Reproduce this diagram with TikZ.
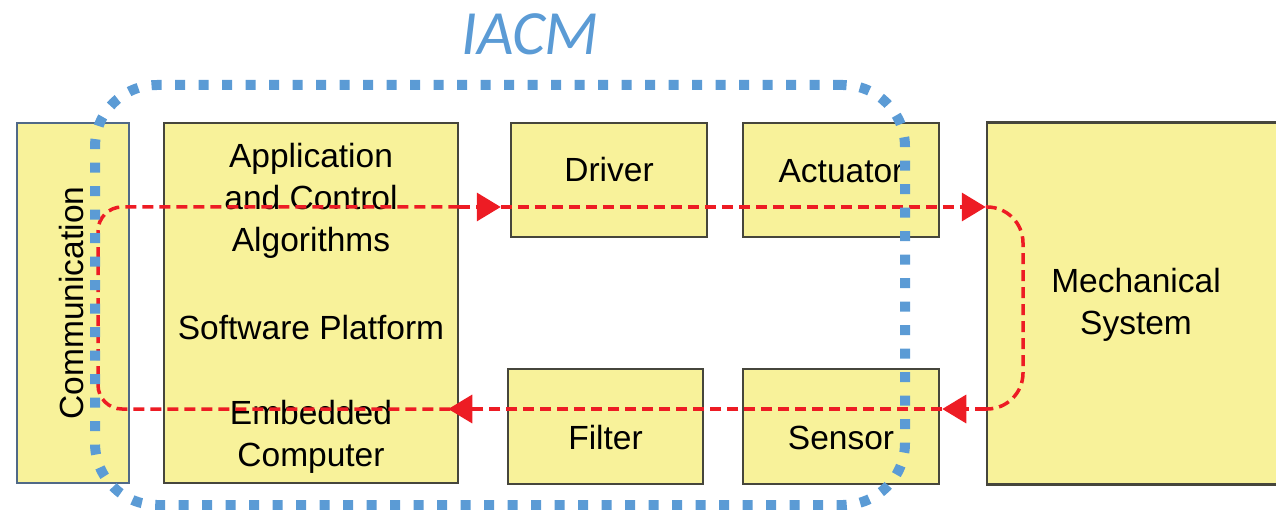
\documentclass[tikz,border=0pt]{standalone}
\usepackage{fontspec}
\setmainfont{Liberation Sans}
\newfontfamily\iacmfont{Carlito}
\usetikzlibrary{arrows.meta}
\definecolor{boxfill}{RGB}{248,242,154}
\definecolor{boxline}{RGB}{70,70,60}
\definecolor{commline}{RGB}{80,105,135}
\definecolor{flowred}{RGB}{237,28,36}
\definecolor{iacmblue}{RGB}{91,155,213}
\newcommand{\shifttext}[2]{\raisebox{#1}[\height][\depth]{#2}}
\tikzset{
  blk/.style={draw=boxline, line width=2.5pt, fill=boxfill, inner sep=0pt,
    font=\fontsize{33.5}{42}\selectfont, align=center},
  flow/.style={draw=flowred, line width=3.5pt, dash pattern=on 11pt off 6pt},
  flowarrow/.style={flow, -{Triangle[length=24pt,width=28pt]}},
  frame/.style={draw=iacmblue, line width=10pt, dash pattern=on 10pt off 13.5pt,
    rounded corners=62pt}
}
\begin{document}
\begin{tikzpicture}[x=1pt,y=-1pt]
\useasboundingbox (0,0) rectangle (1276,510);
% boxes
\node[blk, draw=commline, minimum width=360pt, minimum height=112pt, rotate=90] (comm) at (73,303) {\shifttext{1pt}{Communication}};
\node[blk, minimum width=294pt, minimum height=360pt] (app) at (311,303)
  {\shifttext{-6pt}{\begin{tabular}{@{}c@{}}Application\\and Control\\Algorithms\\[46pt]Software Platform\\[43pt]Embedded\\Computer\end{tabular}}};
\node[blk, minimum width=196pt, minimum height=114pt] (driver) at (609,180) {\shifttext{10pt}{Driver}};
\node[blk, minimum width=196pt, minimum height=114pt] (act) at (841,180) {\shifttext{9pt}{Actuator}};
\node[blk, minimum width=195pt, minimum height=115pt] (filter) at (605.5,426.5) {\shifttext{-11pt}{Filter}};
\node[blk, minimum width=196pt, minimum height=115pt] (sensor) at (841,426.5) {\shifttext{-11pt}{Sensor}};
\node[blk, minimum width=298pt, minimum height=362pt] (mech) at (1136,303.5) {\shifttext{-2pt}{\begin{tabular}{@{}c@{}}Mechanical\\System\end{tabular}}};
% flow levels
\coordinate (ytop) at (0,207);
\coordinate (ybot) at (0,409);
\coordinate (lx) at (98,0);
\coordinate (rx) at (1023,0);
% red loop
\draw[flow, rounded corners=24pt] (app.east |- ytop) -- (lx |- ytop) -- (lx |- ybot) -- (app.east |- ybot);
\draw[flowarrow] (app.east |- ytop) -- ([xshift=-9pt]driver.west |- ytop);
\draw[flowarrow] ([xshift=-9pt]driver.west |- ytop) -- (mech.west |- ytop);
\draw[flow, rounded corners=36pt] (mech.west |- ytop) -- (rx |- ytop) -- (rx |- ybot) -- (mech.west |- ybot);
\draw[flowarrow] (mech.west |- ybot) -- ([xshift=2pt]sensor.east |- ybot);
\draw[flowarrow] ([xshift=2pt]sensor.east |- ybot) -- ([xshift=-11pt]app.east |- ybot);
% IACM frame
\node[frame, minimum width=810pt, minimum height=420pt] (iacm) at (500,295) {};
\node[text=iacmblue, font=\iacmfont\itshape\fontsize{63}{63}\selectfont, inner sep=0pt] (iacmlabel) at (530,34) {IACM};
\end{tikzpicture}
\end{document}
